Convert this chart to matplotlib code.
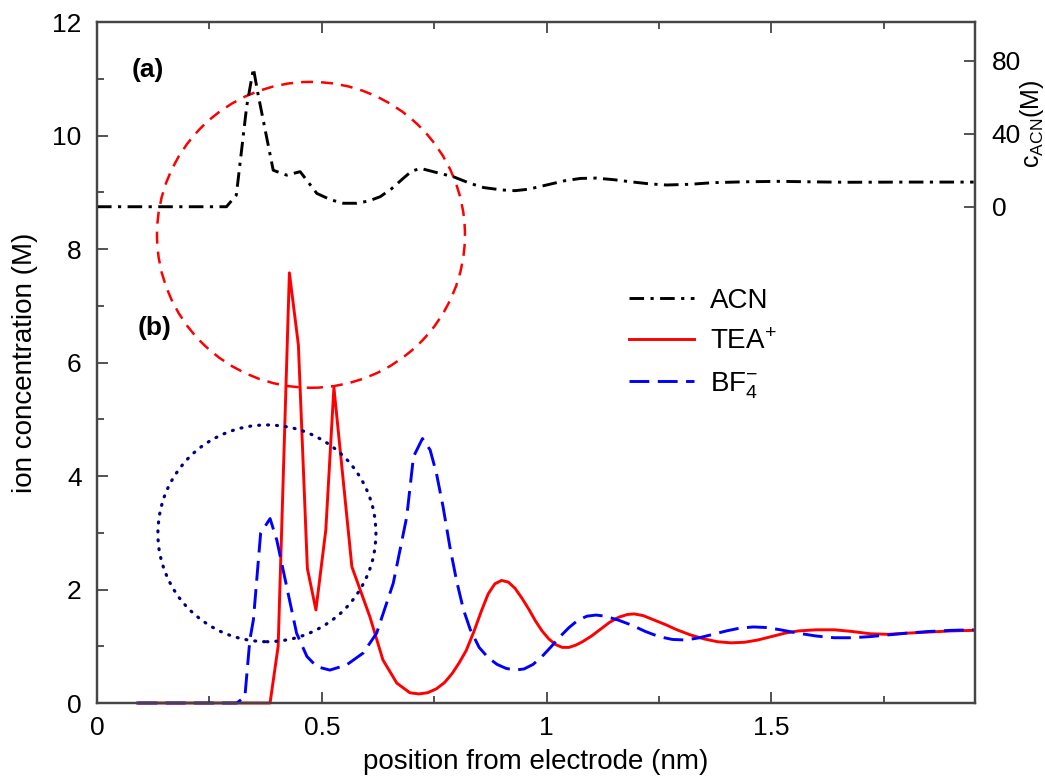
import matplotlib
matplotlib.use("Agg")
import matplotlib.pyplot as plt
from matplotlib.patches import Ellipse
from matplotlib.ticker import MultipleLocator

plt.rcParams['font.family'] = ['Liberation Sans', 'DejaVu Sans']
plt.rcParams['mathtext.fontset'] = 'custom'
plt.rcParams['mathtext.rm'] = 'Liberation Sans'
plt.rcParams['mathtext.it'] = 'Liberation Sans:italic'
plt.rcParams['mathtext.bf'] = 'Liberation Sans:bold'

# ACN concentration (right axis, M)
acn_x = [0, 0.288, 0.31, 0.333, 0.348, 0.358, 0.392, 0.422, 0.452, 0.489,
         0.52, 0.548, 0.578, 0.605, 0.630, 0.655, 0.681, 0.700, 0.720, 0.748,
         0.793, 0.830, 0.860, 0.900, 0.930, 0.960, 1.000, 1.040, 1.075, 1.110,
         1.150, 1.186, 1.230, 1.267, 1.320, 1.371, 1.450, 1.520, 1.600, 1.668,
         1.800, 1.95]
acn_c = [0, 0, 6.4, 55, 75.8, 62, 20, 17.3, 19.2, 7.3,
         3.8, 1.9, 1.9, 3.2, 5.5, 9.8, 15.5, 19.5, 21, 19.2,
         16.4, 12.8, 10.5, 9.2, 8.8, 9.6, 11.9, 14.2, 15.5, 15.7,
         14.8, 13.7, 12.5, 11.9, 12.3, 13.2, 13.7, 13.9, 13.6, 13.4,
         13.5, 13.5]

# TEA+ concentration (left axis, M)
tea_x = [0.09, 0.385, 0.403, 0.428, 0.448, 0.468, 0.487, 0.509, 0.527, 0.567,
         0.607, 0.636, 0.667, 0.696, 0.716, 0.735, 0.755, 0.773, 0.790, 0.805,
         0.821, 0.838, 0.855, 0.870, 0.885, 0.900, 0.915, 0.930, 0.945, 0.960,
         0.975, 0.990, 1.005, 1.020, 1.035, 1.050, 1.065, 1.080, 1.100, 1.120,
         1.140, 1.160, 1.180, 1.195, 1.215, 1.240, 1.265, 1.290, 1.320, 1.350,
         1.380, 1.410, 1.440, 1.470, 1.500, 1.530, 1.560, 1.600, 1.640, 1.680,
         1.720, 1.760, 1.800, 1.850, 1.900, 1.95]
tea_c = [0, 0, 1.0, 7.58, 6.31, 2.37, 1.64, 3.05, 5.56, 2.40,
         1.52, 0.76, 0.35, 0.18, 0.16, 0.18, 0.25, 0.36, 0.52, 0.70,
         0.92, 1.25, 1.62, 1.92, 2.10, 2.16, 2.13, 2.02, 1.85, 1.66,
         1.45, 1.27, 1.13, 1.03, 0.98, 0.98, 1.02, 1.08, 1.18, 1.30,
         1.42, 1.51, 1.56, 1.57, 1.54, 1.46, 1.38, 1.29, 1.20, 1.13,
         1.08, 1.06, 1.07, 1.11, 1.17, 1.23, 1.27, 1.29, 1.29, 1.26,
         1.22, 1.21, 1.23, 1.25, 1.27, 1.28]

# BF4- concentration (left axis, M)
bf4_x = [0.09, 0.311, 0.329, 0.340, 0.348, 0.364, 0.385, 0.400, 0.422, 0.444,
         0.467, 0.489, 0.518, 0.555, 0.592, 0.622, 0.659, 0.689, 0.704, 0.724,
         0.741, 0.755, 0.770, 0.785, 0.800, 0.815, 0.830, 0.850, 0.870, 0.890,
         0.910, 0.930, 0.950, 0.970, 0.990, 1.010, 1.030, 1.050, 1.070, 1.090,
         1.110, 1.130, 1.160, 1.190, 1.220, 1.250, 1.280, 1.310, 1.340, 1.370,
         1.400, 1.430, 1.460, 1.490, 1.520, 1.560, 1.600, 1.640, 1.680, 1.720,
         1.760, 1.800, 1.850, 1.900, 1.95]
bf4_c = [0, 0, 0.11, 1.11, 1.47, 2.99, 3.25, 2.87, 2.05, 1.23,
         0.82, 0.64, 0.58, 0.67, 0.88, 1.23, 2.11, 3.28, 4.34, 4.66,
         4.46, 4.05, 3.45, 2.75, 2.15, 1.65, 1.30, 0.98, 0.80, 0.68,
         0.61, 0.58, 0.60, 0.68, 0.82, 0.99, 1.17, 1.33, 1.46, 1.53,
         1.55, 1.53, 1.46, 1.37, 1.26, 1.17, 1.12, 1.11, 1.15, 1.21,
         1.27, 1.32, 1.34, 1.33, 1.29, 1.23, 1.18, 1.15, 1.15, 1.17,
         1.20, 1.23, 1.26, 1.28, 1.29]

spine_col = '#454545'

fig = plt.figure(figsize=(10.45, 7.78), dpi=100)
ax = fig.add_axes([0.0928, 0.0964, 0.8402, 0.8753])
ax2 = ax.twinx()

l_tea, = ax.plot(tea_x, tea_c, color='red', lw=2.1, zorder=3, clip_on=False)
l_bf4, = ax.plot(bf4_x, bf4_c, color='blue', lw=2.1, dashes=(6.8, 2.9),
                 zorder=3, clip_on=False)
l_acn, = ax2.plot(acn_x, acn_c, color='black', lw=2.1,
                  dashes=(5.0, 2.2, 1.1, 2.2))

# highlight circles
ax.add_patch(Ellipse((0.476, 8.25), 0.685, 5.39, fill=False, ec='red',
                     lw=1.8, ls=(0, (4.8, 3.2)), zorder=3))
dots = Ellipse((0.378, 2.99), 0.485, 3.82, fill=False, ec='#000080',
               lw=2.3, ls=(0, (0.3, 2.5)), zorder=3)
dots.set_capstyle('round')
ax.add_patch(dots)

ax.set_xlim(0, 1.953)
ax.set_ylim(0, 12)
ax2.set_ylim(-271.9, 101.2)

ax.xaxis.set_major_locator(MultipleLocator(0.5))
ax.xaxis.set_minor_locator(MultipleLocator(0.25))
ax.yaxis.set_major_locator(MultipleLocator(2))
ax.yaxis.set_minor_locator(MultipleLocator(1))
ax.set_xticks([0, 0.5, 1, 1.5])
ax.set_xticklabels(['0', '0.5', '1', '1.5'])
ax2.set_yticks([0, 40, 80])

ax.tick_params(which='both', direction='in', top=True, right=False,
               colors=spine_col, labelcolor='black', labelsize=19, width=1.3)
ax.tick_params(which='major', length=8)
ax.tick_params(which='minor', length=5)
ax.tick_params(axis='y', pad=11)
ax.tick_params(axis='x', pad=9)
ax2.tick_params(which='both', direction='in', length=8, width=1.3,
                colors=spine_col, labelcolor='black', labelsize=19, pad=12)

for a in (ax, ax2):
    for s in a.spines.values():
        s.set_color(spine_col)
        s.set_linewidth(1.6)

ax.set_xlabel('position from electrode (nm)', fontsize=20, labelpad=7)
ax.set_ylabel('ion concentration (M)', fontsize=20, labelpad=10)
ax2.set_ylabel('c$_{\\mathrm{ACN}}$(M)', fontsize=18)
ax2.yaxis.set_label_coords(1.049, 0.85)

ax.text(0.113, 11.15, '(a)', fontsize=19, fontweight='bold', ha='center', va='center')
ax.text(0.129, 6.61, '(b)', fontsize=19, fontweight='bold', ha='center', va='center')

ax2.legend([l_acn, l_tea, l_bf4], ['ACN', 'TEA$^{+}$', 'BF$_4^{-}$'],
           loc='upper left', bbox_to_anchor=(0.606, 0.61), frameon=False,
           fontsize=20, handlelength=2.35, handletextpad=0.55, labelspacing=0.55,
           borderpad=0, borderaxespad=0)

fig.savefig('out.png', dpi=100)
